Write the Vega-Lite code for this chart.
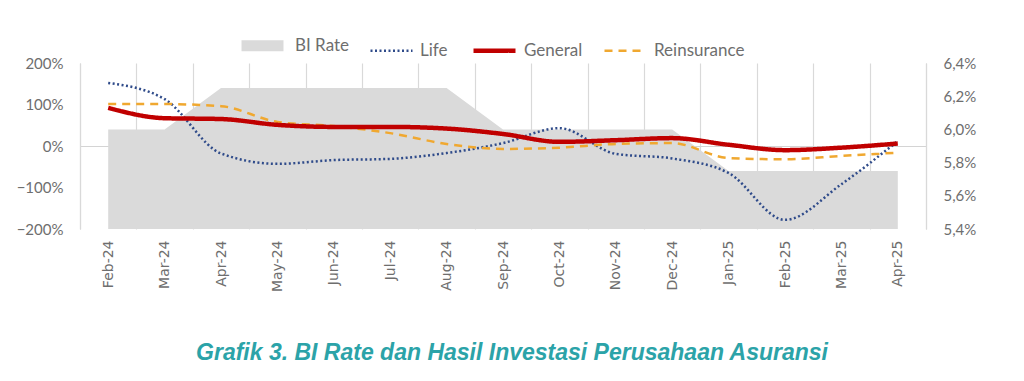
{
  "$schema": "https://vega.github.io/schema/vega-lite/v6.json",
  "width": 846,
  "height": 166,
  "autosize": {"type": "none"},
  "padding": {"left": 80, "top": 63, "right": 98, "bottom": 152},
  "background": "white",
  "config": {
    "view": {"stroke": null},
    "font": "Lato",
    "axis": {"labelColor": "#6e6e6e", "labelFont": "Lato", "labelFontSize": 15, "ticks": false, "title": null}
  },
  "title": {
    "text": "Grafik 3. BI Rate dan Hasil Investasi Perusahaan Asuransi",
    "orient": "bottom",
    "anchor": "middle",
    "font": "Liberation Sans",
    "fontStyle": "italic",
    "fontWeight": "bold",
    "fontSize": 23,
    "color": "#2ba3a8",
    "offset": 50,
    "dx": 9
  },
  "data": {
    "values": [
      {"month": "Feb-24", "BI": 6.0, "Life": 152, "General": 92, "Reinsurance": 101},
      {"month": "Mar-24", "BI": 6.0, "Life": 113, "General": 67, "Reinsurance": 101},
      {"month": "Apr-24", "BI": 6.25, "Life": -18, "General": 65, "Reinsurance": 96},
      {"month": "May-24", "BI": 6.25, "Life": -43, "General": 51, "Reinsurance": 58},
      {"month": "Jun-24", "BI": 6.25, "Life": -34, "General": 46, "Reinsurance": 48},
      {"month": "Jul-24", "BI": 6.25, "Life": -31, "General": 46, "Reinsurance": 31},
      {"month": "Aug-24", "BI": 6.25, "Life": -17, "General": 42, "Reinsurance": 5},
      {"month": "Sep-24", "BI": 6.0, "Life": 7, "General": 29, "Reinsurance": -7},
      {"month": "Oct-24", "BI": 6.0, "Life": 43, "General": 10, "Reinsurance": -4},
      {"month": "Nov-24", "BI": 6.0, "Life": -19, "General": 14, "Reinsurance": 5},
      {"month": "Dec-24", "BI": 6.0, "Life": -30, "General": 19, "Reinsurance": 7},
      {"month": "Jan-25", "BI": 5.75, "Life": -65, "General": 3, "Reinsurance": -29},
      {"month": "Feb-25", "BI": 5.75, "Life": -178, "General": -10, "Reinsurance": -32},
      {"month": "Mar-25", "BI": 5.75, "Life": -92, "General": -4, "Reinsurance": -24},
      {"month": "Apr-25", "BI": 5.75, "Life": 12, "General": 6, "Reinsurance": -16}
    ]
  },
  "layer": [
    {
      "mark": {"type": "area", "color": "#dadada", "interpolate": "linear"},
      "encoding": {
        "x": {
          "field": "month", "type": "ordinal", "sort": null, "bandPosition": 0.5,
          "scale": {"type": "band", "paddingInner": 0, "paddingOuter": 0},
          "axis": {
            "title": null, "domain": false, "ticks": false, "labelAngle": -90,
            "labelFont": "DejaVu Sans", "labelFontSize": 14, "labelPadding": 11,
            "grid": true, "gridColor": "#d9d9d9", "gridWidth": 1.2, "tickBand": "extent"
          }
        },
        "y": {
          "field": "BI", "type": "quantitative",
          "scale": {"domain": [5.4, 6.4], "zero": false, "nice": false},
          "axis": {
            "orient": "right", "title": null, "values": [5.4, 5.6, 5.8, 6.0, 6.2, 6.4],
            "labelExpr": "replace(format(datum.value, '.1f'), '.', ',') + '%'",
            "domain": true, "domainColor": "#d9d9d9", "domainWidth": 1.2,
            "grid": false, "labelPadding": 17
          }
        },
        "y2": {"datum": 5.4}
      }
    },
    {
      "transform": [{"fold": ["Life", "Reinsurance", "General"], "as": ["series", "value"]}],
      "mark": {"type": "line", "interpolate": "monotone"},
      "encoding": {
        "x": {"field": "month", "type": "ordinal", "sort": null, "bandPosition": 0.5},
        "y": {
          "field": "value", "type": "quantitative",
          "scale": {"domain": [-200, 200], "nice": false},
          "axis": {
            "orient": "left", "title": null, "values": [-200, -100, 0, 100, 200],
            "labelExpr": "format(datum.value, 'd') + '%'",
            "domain": true, "domainColor": "#d9d9d9", "domainWidth": 1.2,
            "grid": true, "gridWidth": 1.2,
            "gridColor": {"condition": {"test": "datum.value === 0", "value": "#d4d4d4"}, "value": "transparent"},
            "labelPadding": 17
          }
        },
        "stroke": {
          "field": "series", "type": "nominal",
          "scale": {"domain": ["BI Rate", "Life", "General", "Reinsurance"], "range": ["#dadada", "#2f4b8a", "#c00000", "#f0a830"]},
          "legend": {
            "orient": "none", "legendX": 156, "legendY": -44, "direction": "horizontal", "title": null,
            "symbolType": "stroke", "symbolSize": 1764, "labelFont": "Lato", "labelFontSize": 17,
            "labelColor": "#6e6e6e", "labelOffset": 6, "columnPadding": 16
          }
        },
        "strokeDash": {
          "field": "series", "type": "nominal",
          "scale": {"domain": ["BI Rate", "Life", "General", "Reinsurance"], "range": [[1, 0], [2, 2.5], [1, 0], [8, 6]]},
          "legend": {
            "orient": "none", "legendX": 156, "legendY": -44, "direction": "horizontal", "title": null,
            "symbolType": "stroke", "symbolSize": 1764, "labelFont": "Lato", "labelFontSize": 17,
            "labelColor": "#6e6e6e", "labelOffset": 6, "columnPadding": 16
          }
        },
        "strokeWidth": {
          "field": "series", "type": "nominal",
          "scale": {"type": "ordinal", "domain": ["BI Rate", "Life", "General", "Reinsurance"], "range": [11, 2.5, 4.5, 2.5]},
          "legend": {
            "orient": "none", "legendX": 156, "legendY": -44, "direction": "horizontal", "title": null,
            "symbolType": "stroke", "symbolSize": 1764, "labelFont": "Lato", "labelFontSize": 17,
            "labelColor": "#6e6e6e", "labelOffset": 6, "columnPadding": 16
          }
        }
      }
    }
  ],
  "resolve": {"scale": {"y": "independent"}}
}
